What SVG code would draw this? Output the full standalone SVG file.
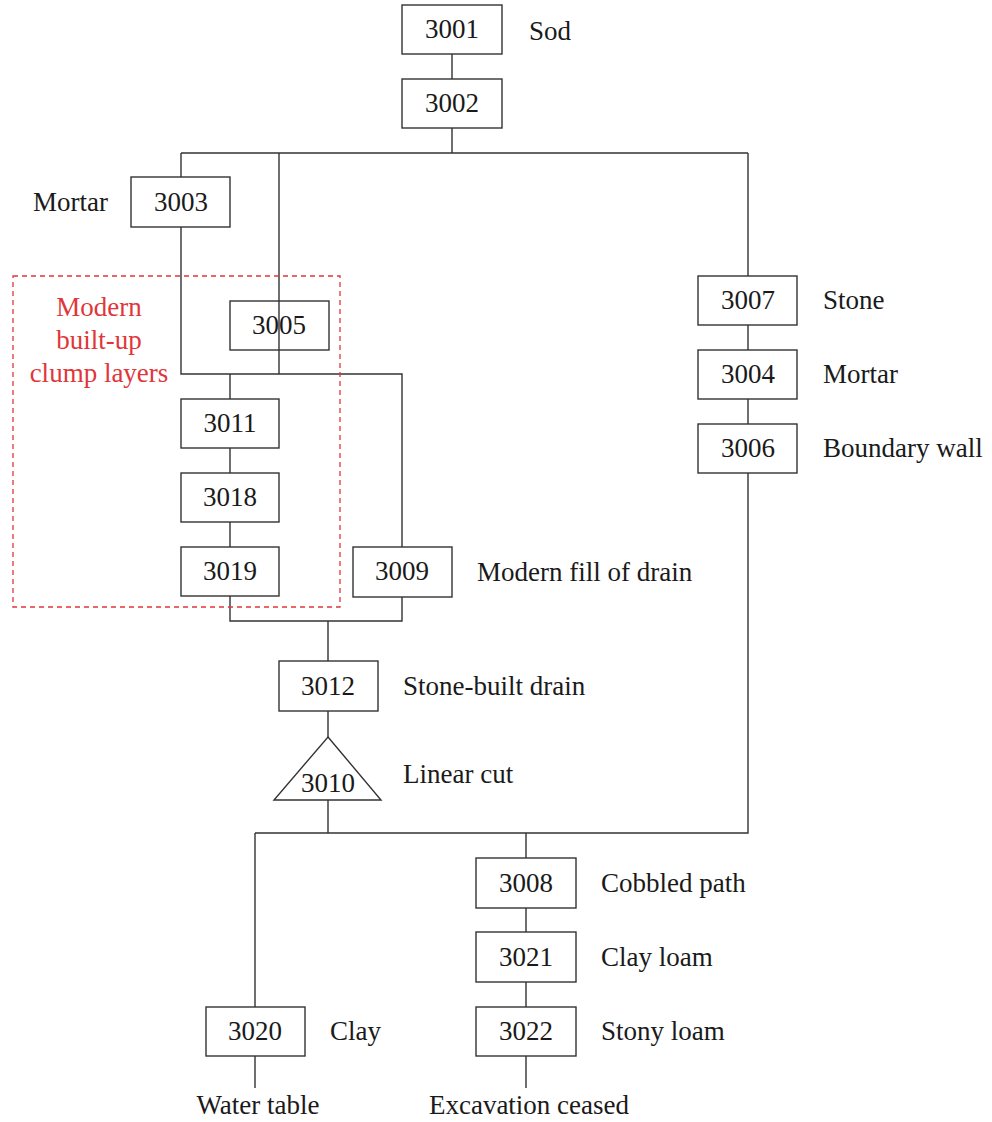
<svg xmlns="http://www.w3.org/2000/svg" width="992" height="1122" viewBox="0 0 992 1122">
<style>
.b{fill:#fff;stroke:#333;stroke-width:1.4}
.c{fill:none;stroke:#333;stroke-width:1.4}
text{font-family:"Liberation Serif","Times New Roman",serif;font-size:27px;fill:#1a1a1a}
.n{text-anchor:middle}
.r{fill:#e0363a;text-anchor:middle}
</style>
<rect width="992" height="1122" fill="#fff"/>
<g id="connectors">
<path class="c" d="M452 54V79M452 128V153M181 153H748M181 153V177M279 153V374M748 153V276M181 227V374H402V547M230 374V399M230 448V473M230 522V547M230 596V621H402V596M328 621V661M328 711V737M328 800V833M255 833H748V473M748 325V350M748 399V424M255 833V1007M255 1056V1088M526 833V858M526 908V932M526 982V1007M526 1056V1088"/>
</g>
<g id="group-modern">
<rect x="13" y="276" width="327" height="331" fill="none" stroke="#e0363a" stroke-width="1.3" stroke-dasharray="5,4"/>
<text class="r" x="99" y="316">Modern</text>
<text class="r" x="99" y="349">built-up</text>
<text class="r" x="99" y="382">clump layers</text>
</g>
<g id="n3001"><rect class="b" x="402" y="5" width="100" height="49"/><text class="n" x="452" y="38">3001</text><text x="529" y="40">Sod</text></g>
<g id="n3002"><rect class="b" x="402" y="79" width="100" height="49"/><text class="n" x="452" y="112">3002</text></g>
<g id="n3003"><rect class="b" x="131" y="177" width="99" height="50"/><text class="n" x="181" y="211">3003</text><text x="33" y="211">Mortar</text></g>
<g id="n3005"><rect class="b" x="230" y="301" width="99" height="49"/><text class="n" x="279" y="334">3005</text><path class="c" d="M279 301V350"/></g>
<g id="n3011"><rect class="b" x="181" y="399" width="98" height="49"/><text class="n" x="230" y="432">3011</text></g>
<g id="n3018"><rect class="b" x="181" y="473" width="98" height="49"/><text class="n" x="230" y="506">3018</text></g>
<g id="n3019"><rect class="b" x="181" y="547" width="98" height="49"/><text class="n" x="230" y="580">3019</text></g>
<g id="n3009"><rect class="b" x="353" y="547" width="99" height="50"/><text class="n" x="402" y="580">3009</text><text x="477" y="581">Modern fill of drain</text></g>
<g id="n3012"><rect class="b" x="279" y="661" width="99" height="50"/><text class="n" x="328" y="695">3012</text><text x="403" y="695">Stone-built drain</text></g>
<g id="n3010"><path class="b" d="M328 737L381 800H274Z"/><text class="n" x="328" y="792">3010</text><text x="403" y="783">Linear cut</text></g>
<g id="n3007"><rect class="b" x="698" y="276" width="99" height="49"/><text class="n" x="748" y="309">3007</text><text x="823" y="309">Stone</text></g>
<g id="n3004"><rect class="b" x="698" y="350" width="99" height="49"/><text class="n" x="748" y="383">3004</text><text x="823" y="383">Mortar</text></g>
<g id="n3006"><rect class="b" x="698" y="424" width="99" height="49"/><text class="n" x="748" y="457">3006</text><text x="823" y="457">Boundary wall</text></g>
<g id="n3008"><rect class="b" x="476" y="858" width="100" height="50"/><text class="n" x="526" y="892">3008</text><text x="601" y="892">Cobbled path</text></g>
<g id="n3021"><rect class="b" x="476" y="932" width="100" height="50"/><text class="n" x="526" y="966">3021</text><text x="601" y="966">Clay loam</text></g>
<g id="n3022"><rect class="b" x="476" y="1007" width="100" height="49"/><text class="n" x="526" y="1040">3022</text><text x="601" y="1040">Stony loam</text></g>
<g id="n3020"><rect class="b" x="206" y="1007" width="99" height="49"/><text class="n" x="255" y="1040">3020</text><text x="330" y="1040">Clay</text></g>
<g id="ends"><text class="n" x="258" y="1114">Water table</text><text class="n" x="529" y="1114">Excavation ceased</text></g>
</svg>
